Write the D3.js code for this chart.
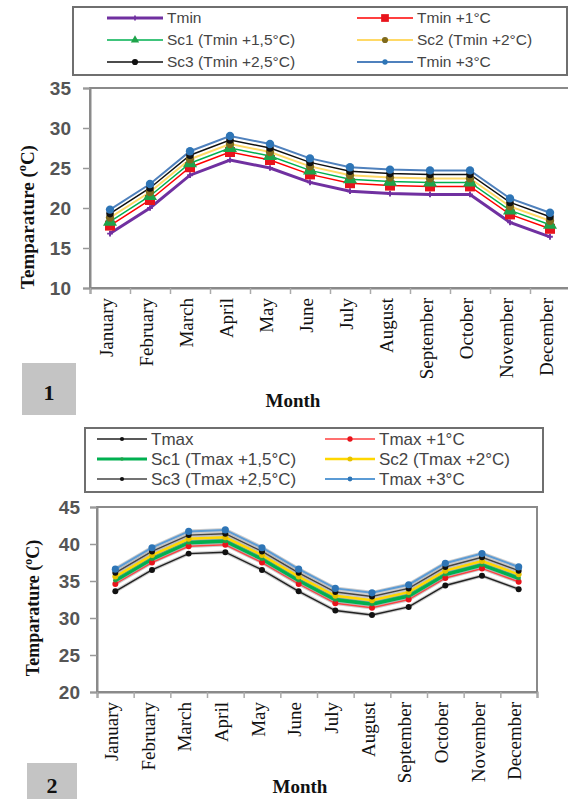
<!DOCTYPE html>
<html>
<head>
<meta charset="utf-8">
<script src="https://cdn.jsdelivr.net/npm/d3@7"></script>
<style>
	body { margin: 0; background: #fff; }
	svg { display: block; }
</style>
</head>
<body>
<div id="chart"></div>
<script>
// data
var months = ["January", "February", "March", "April", "May", "June", "July",
	"August", "September", "October", "November", "December"];

var tminNames = ["Tmin", "Tmin +1°C", "Sc1 (Tmin +1,5°C)", "Sc2 (Tmin +2°C)", "Sc3 (Tmin +2,5°C)", "Tmin +3°C"];
var tmin   = [16.8, 20.0, 24.1, 26.0, 25.0, 23.2, 22.1, 21.8, 21.7, 21.7, 18.2, 16.4];
var tmin1  = [17.8, 21.0, 25.1, 27.0, 26.0, 24.2, 23.1, 22.8, 22.7, 22.7, 19.2, 17.4];
var tminS1 = [18.3, 21.5, 25.6, 27.5, 26.5, 24.7, 23.6, 23.3, 23.2, 23.2, 19.7, 17.9];
var tminS2 = [18.8, 22.0, 26.1, 28.0, 27.0, 25.2, 24.1, 23.8, 23.7, 23.7, 20.2, 18.4];
var tminS3 = [19.3, 22.5, 26.6, 28.5, 27.5, 25.7, 24.6, 24.3, 24.2, 24.2, 20.7, 18.9];
var tmin3  = [19.8, 23.0, 27.1, 29.0, 28.0, 26.2, 25.1, 24.8, 24.7, 24.7, 21.2, 19.4];

var tmaxNames = ["Tmax", "Tmax +1°C", "Sc1 (Tmax +1,5°C)", "Sc2 (Tmax +2°C)", "Sc3 (Tmax +2,5°C)", "Tmax +3°C"];
var tmax   = [33.6, 36.5, 38.7, 38.9, 36.5, 33.6, 31.0, 30.4, 31.5, 34.4, 35.7, 33.9];
var tmax1  = [34.6, 37.5, 39.7, 39.9, 37.5, 34.6, 32.0, 31.4, 32.5, 35.4, 36.7, 34.9];
var tmaxS1 = [35.1, 38.0, 40.2, 40.4, 38.0, 35.1, 32.5, 31.9, 33.0, 35.9, 37.2, 35.4];
var tmaxS2 = [35.6, 38.5, 40.7, 40.9, 38.5, 35.6, 33.0, 32.4, 33.5, 36.4, 37.7, 35.9];
var tmaxS3 = [36.1, 39.0, 41.2, 41.4, 39.0, 36.1, 33.5, 32.9, 34.0, 36.9, 38.2, 36.4];
var tmax3  = [36.6, 39.5, 41.7, 41.9, 39.5, 36.6, 34.0, 33.4, 34.5, 37.4, 38.7, 36.9];

var tminTicks = [10, 15, 20, 25, 30, 35];
var tmaxTicks = [20, 25, 30, 35, 40, 45];

// styles per series (line colour, width, marker)
var tminStyle = [
	{ stroke: "#7030a0", width: 3, symbol: d3.symbolCross, fill: "#7030a0", size: 18, lsize: 14 },
	{ stroke: "#ff0000", width: 1.5, symbol: d3.symbolSquare, fill: "#e8141c", size: 100, lsize: 60 },
	{ stroke: "#00b050", width: 1.5, symbol: d3.symbolTriangle, fill: "#1fa34a", size: 85, lsize: 30 },
	{ stroke: "#ffd966", width: 2, symbol: d3.symbolCircle, fill: "#7f6a1e", size: 55, lsize: 30 },
	{ stroke: "#111", width: 1.5, symbol: d3.symbolCircle, fill: "#111", size: 45, lsize: 30 },
	{ stroke: "#4f81bd", width: 2, symbol: d3.symbolCircle, fill: "#2e75b6", size: 55, lsize: 22 }
];
var tmaxStyle = [
	{ stroke: "#222", width: 1.5, symbol: d3.symbolCircle, fill: "#111", size: 28, lsize: 14 },
	{ stroke: "#ff4040", width: 1.5, symbol: d3.symbolCircle, fill: "#e8141c", size: 28, lsize: 22 },
	{ stroke: "#00b050", width: 4, symbol: d3.symbolCircle, fill: "#1fa34a", size: 16, lsize: 10 },
	{ stroke: "#ffd700", width: 2.5, symbol: d3.symbolCircle, fill: "#e6c200", size: 28, lsize: 20 },
	{ stroke: "#444", width: 1.5, symbol: d3.symbolCircle, fill: "#111", size: 28, lsize: 14 },
	{ stroke: "#5b9bd5", width: 2, symbol: d3.symbolCircle, fill: "#2e75b6", size: 40, lsize: 18 }
];

var width = 568, height = 799;

var svg = d3.select("#chart").append("svg")
	.attr("width", width)
	.attr("height", height);

var drawPanel = function(opts) {
	var g = svg.append("g");
	var m = opts.plot;

	// scales
	var x = d3.scaleBand().domain(months).range([m.left, m.right]);
	var xi = d3.scaleLinear().domain([0, months.length]).range([m.left, m.right]);
	var y = d3.scaleLinear().domain(d3.extent(opts.ticks)).range([m.bottom, m.top]);

	// plot box
	g.append("rect")
		.attr("x", m.left)
		.attr("y", m.top)
		.attr("width", m.right - m.left)
		.attr("height", m.bottom - m.top)
		.attr("fill", "#fff")
		.attr("stroke", "#8a8a8a")
		.attr("stroke-width", 2);

	// y axis
	var yAxis = g.append("g")
		.attr("transform", "translate(" + m.left + ",0)")
		.call(d3.axisLeft(y).tickValues(opts.ticks).tickSize(7).tickPadding(opts.yTickPad));
	yAxis.select(".domain").attr("stroke", "#8a8a8a").attr("stroke-width", 2);
	yAxis.selectAll(".tick line").attr("stroke", "#999").attr("stroke-width", 1.5);
	yAxis.selectAll(".tick text")
		.attr("font-family", "Liberation Sans, Arial, sans-serif")
		.attr("font-size", opts.yTickSize)
		.attr("font-weight", "bold")
		.attr("fill", "#555");

	// x axis: ticks between months, labels at month centres
	var xTicks = g.append("g")
		.attr("transform", "translate(0," + m.bottom + ")")
		.call(d3.axisBottom(xi).ticks(months.length).tickSize(6).tickFormat(""));
	xTicks.select(".domain").attr("stroke", "#8a8a8a").attr("stroke-width", 2);
	xTicks.selectAll(".tick line").attr("stroke", "#aaa").attr("stroke-width", 1.5);

	var xAxis = g.append("g")
		.attr("transform", "translate(0," + m.bottom + ")")
		.call(d3.axisBottom(x).tickSize(0).tickPadding(0));
	xAxis.select(".domain").remove();
	xAxis.selectAll(".tick text")
		.attr("font-family", "Liberation Serif, Times New Roman, serif")
		.attr("font-size", opts.xTickSize)
		.attr("fill", "#111")
		.attr("text-anchor", "end")
		.attr("dy", "0.3em")
		.attr("y", 0)
		.attr("transform", "translate(-3," + opts.xLabelGap + ") rotate(-90)");

	// lines and markers
	var line = d3.line()
		.x(function(d, i) { return x(months[i]) + x.bandwidth() / 2; })
		.y(function(d) { return y(d); });

	opts.series.forEach(function(s, k) {
		var st = opts.styles[k];
		if (opts.shadow) {
			g.append("path")
				.attr("d", line(s))
				.attr("fill", "none")
				.attr("stroke", "#9a9a9a")
				.attr("stroke-opacity", 0.5)
				.attr("stroke-width", st.width + 2);
		}
		g.append("path")
			.attr("d", line(s))
			.attr("fill", "none")
			.attr("stroke", st.stroke)
			.attr("stroke-width", st.width);
	});
	opts.series.forEach(function(s, k) {
		var st = opts.styles[k];
		g.append("g").selectAll("path")
			.data(s)
			.enter().append("path")
			.attr("d", d3.symbol().type(st.symbol).size(st.size))
			.attr("transform", function(d, i) {
				return "translate(" + (x(months[i]) + x.bandwidth() / 2) + "," + y(d) + ")";
			})
			.attr("fill", st.fill);
	});

	// legend
	var L = opts.legend;
	g.append("rect")
		.attr("x", L.x)
		.attr("y", L.y)
		.attr("width", L.w)
		.attr("height", L.h)
		.attr("fill", "#fff")
		.attr("stroke", "#6f6f6f")
		.attr("stroke-width", 2);

	var item = g.append("g").selectAll("g")
		.data(opts.names)
		.enter().append("g")
		.attr("transform", function(d, i) {
			return "translate(" + L.cols[i % 2] + "," + L.rows[Math.floor(i / 2)] + ")";
		});
	item.append("line")
		.attr("x1", 0)
		.attr("x2", L.lineLen)
		.attr("stroke", function(d, i) { return opts.styles[i].stroke; })
		.attr("stroke-width", function(d, i) { return Math.min(opts.styles[i].width, 3); });
	item.append("path")
		.attr("d", function(d, i) { return d3.symbol().type(opts.styles[i].symbol).size(opts.styles[i].lsize)(); })
		.attr("transform", "translate(" + (L.lineLen / 2) + ",0)")
		.attr("fill", function(d, i) { return opts.styles[i].fill; });
	item.append("text")
		.attr("x", L.lineLen + 4)
		.attr("dy", "0.35em")
		.attr("font-family", "Liberation Sans, Arial, sans-serif")
		.attr("font-size", L.font)
		.attr("fill", "#444")
		.text(function(d) { return d; });

	// y axis title
	var yt = g.append("text")
		.attr("transform", "translate(" + opts.yTitle[0] + "," + opts.yTitle[1] + ") rotate(-90)")
		.attr("text-anchor", "middle")
		.attr("dy", "0.35em")
		.attr("font-family", "Liberation Serif, Times New Roman, serif")
		.attr("font-size", opts.yTitleSize)
		.attr("font-weight", "bold")
		.attr("fill", "#111");
	yt.append("tspan").text("Temparature (");
	yt.append("tspan").attr("font-size", "0.65em").attr("dy", "-0.6em").text("o");
	yt.append("tspan").attr("dy", "0.4em").text("C)");

	// x axis title
	g.append("text")
		.attr("x", opts.xTitle[0])
		.attr("y", opts.xTitle[1])
		.attr("text-anchor", "middle")
		.attr("font-family", "Liberation Serif, Times New Roman, serif")
		.attr("font-size", 19)
		.attr("font-weight", "bold")
		.attr("fill", "#111")
		.text("Month");

	// panel number
	var b = opts.badge;
	g.append("rect")
		.attr("x", b.x)
		.attr("y", b.y)
		.attr("width", b.w)
		.attr("height", b.h)
		.attr("fill", "#c4c4c4");
	g.append("text")
		.attr("x", b.x + b.w / 2)
		.attr("y", b.y + b.ty)
		.attr("text-anchor", "middle")
		.attr("font-family", "Liberation Serif, Times New Roman, serif")
		.attr("font-size", 22)
		.attr("font-weight", "bold")
		.attr("fill", "#111")
		.text(b.label);
};

// panel 1: Tmin
drawPanel({
	plot: { left: 90, right: 570, top: 88, bottom: 288 },
	ticks: tminTicks,
	series: [tmin, tmin1, tminS1, tminS2, tminS3, tmin3],
	names: tminNames,
	styles: tminStyle,
	shadow: false,
	yTickSize: 19,
	yTickPad: 12,
	xTickSize: 19,
	xLabelGap: 10,
	legend: { x: 73, y: 7, w: 494, h: 68, cols: [107, 357], rows: [18, 40, 62], lineLen: 56, font: 15.5 },
	yTitle: [27, 217],
	yTitleSize: 19,
	xTitle: [293, 407],
	badge: { x: 22, y: 363, w: 54, h: 52, ty: 37, label: "1" }
});

// panel 2: Tmax
drawPanel({
	plot: { left: 97, right: 537, top: 507, bottom: 692 },
	ticks: tmaxTicks,
	series: [tmax, tmax1, tmaxS1, tmaxS2, tmaxS3, tmax3],
	names: tmaxNames,
	styles: tmaxStyle,
	shadow: true,
	yTickSize: 19,
	yTickPad: 10,
	xTickSize: 19,
	xLabelGap: 10,
	legend: { x: 85, y: 428, w: 458, h: 64, cols: [97, 325], rows: [439, 459, 479], lineLen: 50, font: 17 },
	yTitle: [33, 608],
	yTitleSize: 18,
	xTitle: [300, 793],
	badge: { x: 27, y: 763, w: 50, h: 40, ty: 30, label: "2" }
});
</script>
</body>
</html>
